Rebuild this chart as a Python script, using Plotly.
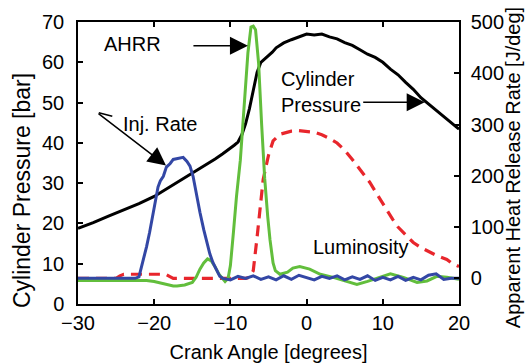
import plotly.graph_objects as go

# Crank angle samples [degrees] and cylinder pressure [bar]
pres_ca = [-30, -28, -26, -24, -22, -20, -18, -16, -14, -12, -11, -10, -9.5, -9,
           -8.5, -8, -7.5, -7, -6.5, -6, -5.5, -5, -4.5, -4, -3, -2, -1, 0, 1, 2,
           3, 4, 5, 6, 7, 8, 9, 10, 11, 12, 13, 14, 15, 16, 17, 18, 19, 20]
pressure = [18.8, 20.2, 21.8, 23.3, 24.9, 26.7, 29.0, 31.4, 33.6, 36.0, 37.3, 38.6,
            39.4, 40.2, 42.0, 44.8, 48.5, 53.0, 57.5, 60.0, 60.8, 61.8, 62.5, 63.6,
            64.8, 65.6, 66.3, 67.0, 66.8, 67.0, 66.3, 65.8, 64.9, 64.2, 63.1, 62.0,
            61.2, 60.0, 58.3, 56.9, 55.0, 53.3, 51.2, 49.6, 48.0, 46.5, 44.9, 43.4]

# Apparent heat release rate [J/deg]
ahrr_ca = [-30, -28, -26, -24, -22, -21, -20, -19, -18, -17.5, -17, -16, -15, -14.5,
           -14, -13.5, -13, -12.5, -12, -11.5, -11, -10.7, -10.3, -10, -9.6, -9.2,
           -8.7, -8.2, -7.7, -7.3, -7.0, -6.7, -6.3, -5.9, -5.5, -5.1, -4.8, -4.4,
           -4.1, -3.5, -2.5, -1.8, -0.9, 0.4, 1.8, 3.5, 5.3, 6.6, 8.0, 9.5, 11.0,
           12.7, 14.5, 15.8, 17.1, 18.4, 20]
ahrr = [-4, -4, -5, -5, -5, -4, -6, -9, -13, -15, -15, -13, -8, 2,
        18, 30, 38, 34, 22, 8, -1, -6, 0, 25, 90, 160,
        230, 330, 440, 490, 492, 485, 420, 300, 195, 120, 75, 30,
        15, 8, 12, 20, 23, 18, 8, 2, -6, -12, -6, 2, 9,
        2, -8, -5, 4, 2, -2]

# Injection rate (arbitrary units, scaled to the heat release axis)
inj_ca = [-30, -27, -25, -23, -22.5, -22.0, -21.5, -21.0, -20.6, -20.2, -19.8, -19.5,
          -19.2, -18.8, -18.4, -17.9, -17.5, -16.8, -16.2, -15.7, -15.3, -14.9, -14.5,
          -14.0, -13.5, -13.1, -12.7, -12.3, -11.8, -11.4, -11, -10, -9, -8, -7, -6, -5,
          -4, -3, -2, -1, 0, 1, 2, 3, 4, 5, 6, 7, 8, 9, 10, 11, 12, 13, 14, 15, 16,
          17, 18, 19, 20]
inj_rate = [0, 0, 0, 0, 0, 3, 30, 62, 90, 125, 160, 178,
            190, 199, 217, 224, 232, 234, 236, 228, 219, 199, 165,
            129, 95, 70, 48, 31, 14, 4, 0, -3, 4, 0, 5, -2, 3,
            -3, 5, -2, 6, 2, -3, 4, 0, 5, -3, 3, -2, 5, -4, 2, -3, 4, -4, 2, -3, 6,
            9, -2, 0, 0]

# Luminosity (arbitrary units, scaled to the heat release axis)
lum_ca = [-30, -26, -25, -24.5, -24, -22, -20, -18.5, -18, -17.5, -16, -12, -8,
          -7.5, -7, -6.5, -6, -5.7, -5, -4.4, -3.5, -2, -1, 0, 1, 2, 3, 4, 5, 6,
          7, 8.3, 9, 10, 11.3, 12, 13, 14, 15, 16, 17, 18.4, 19, 20]
luminosity = [0, 0, 0, 5, 8, 8, 8, 8, 4, 0, 0, 0, 0,
              2, 15, 80, 155, 193, 240, 268, 281, 287, 288, 287, 285, 280, 273, 264, 250, 232,
              212, 187, 170, 145, 115, 100, 85, 70, 60, 52, 45, 37, 30, 23]

x_ticks = [-30, -20, -10, 0, 10, 20]
p_ticks = [0, 10, 20, 30, 40, 50, 60, 70]
hr_ticks = [0, 100, 200, 300, 400, 500]

FONT = "Liberation Sans, Arial, sans-serif"
GREEN = "#62be3c"
BLUE = "#3347a5"
RED = "#e8262c"

fig = go.Figure()
fig.add_trace(go.Scatter(x=pres_ca, y=pressure, mode="lines",
                         line=dict(color="black", width=3), yaxis="y"))
fig.add_trace(go.Scatter(x=lum_ca, y=luminosity, mode="lines",
                         line=dict(color=RED, width=3.2, dash="11px,7px"), yaxis="y2"))
fig.add_trace(go.Scatter(x=ahrr_ca, y=ahrr, mode="lines",
                         line=dict(color=GREEN, width=3), yaxis="y2"))
fig.add_trace(go.Scatter(x=inj_ca, y=inj_rate, mode="lines",
                         line=dict(color=BLUE, width=3), yaxis="y2"))

axis_common = dict(showline=True, linecolor="black", linewidth=1.5,
                   ticks="inside", ticklen=5, tickwidth=1.5, tickcolor="black",
                   showgrid=False, zeroline=False, automargin=False,
                   tickfont=dict(family=FONT, size=20, color="black"))

fig.update_layout(
    width=526, height=363,
    margin=dict(l=78, r=67, t=22, b=59),
    paper_bgcolor="white", plot_bgcolor="white",
    showlegend=False,
    font=dict(family=FONT, size=20, color="black"),
    xaxis=dict(range=[-30, 20], tickvals=x_ticks, mirror="ticks",
               title=dict(text="Crank Angle [degrees]", standoff=12,
                          font=dict(family=FONT, size=20)),
               **axis_common),
    yaxis=dict(range=[0, 70], tickvals=p_ticks, ticklabelstandoff=8,
               **axis_common),
    yaxis2=dict(range=[-50, 500], tickvals=hr_ticks, overlaying="y", side="right",
                ticklabelstandoff=6,
                **axis_common),
)

# Axis titles for the two vertical axes
fig.add_annotation(xref="paper", yref="paper", x=-0.147, y=0.404,
                   xanchor="center", yanchor="middle",
                   text="Cylinder Pressure [bar]", textangle=-90, showarrow=False,
                   font=dict(family=FONT, size=23))
fig.add_annotation(xref="paper", yref="paper", x=1.142, y=0.482,
                   xanchor="center", yanchor="middle",
                   text="Apparent Heat Release Rate [J/deg]", textangle=-90,
                   showarrow=False, font=dict(family=FONT, size=20))

arrow = dict(showarrow=True, arrowhead=2, arrowsize=2.4, arrowwidth=1.5,
             arrowcolor="black", axref="pixel", ayref="pixel",
             xref="x", yref="y", text="")

# Curve labels
fig.add_annotation(x=-22.8, y=64.6, text="AHRR", showarrow=False,
                   font=dict(family=FONT, size=20))
fig.add_annotation(x=-7.7, y=64.1, ax=-56, ay=0, **arrow)

fig.add_annotation(x=-3.6, y=52.7, text="Cylinder<br>Pressure", showarrow=False,
                   align="left", xanchor="left",
                   font=dict(family=FONT, size=20))
fig.add_annotation(x=15.5, y=50.1, ax=-63, ay=0, **arrow)

fig.add_annotation(x=-19.2, y=44.8, text="Inj. Rate", showarrow=False,
                   font=dict(family=FONT, size=20))
fig.add_annotation(x=-18.45, y=34.4, ax=-69, ay=-53, **arrow)
fig.add_annotation(x=-25.5, y=46.6, ax=-15, ay=-4,
                   **{**arrow, "arrowhead": 0})

fig.add_annotation(x=7.2, y=14.1, text="Luminosity", showarrow=False,
                   font=dict(family=FONT, size=20))

fig.write_html("out.html")
